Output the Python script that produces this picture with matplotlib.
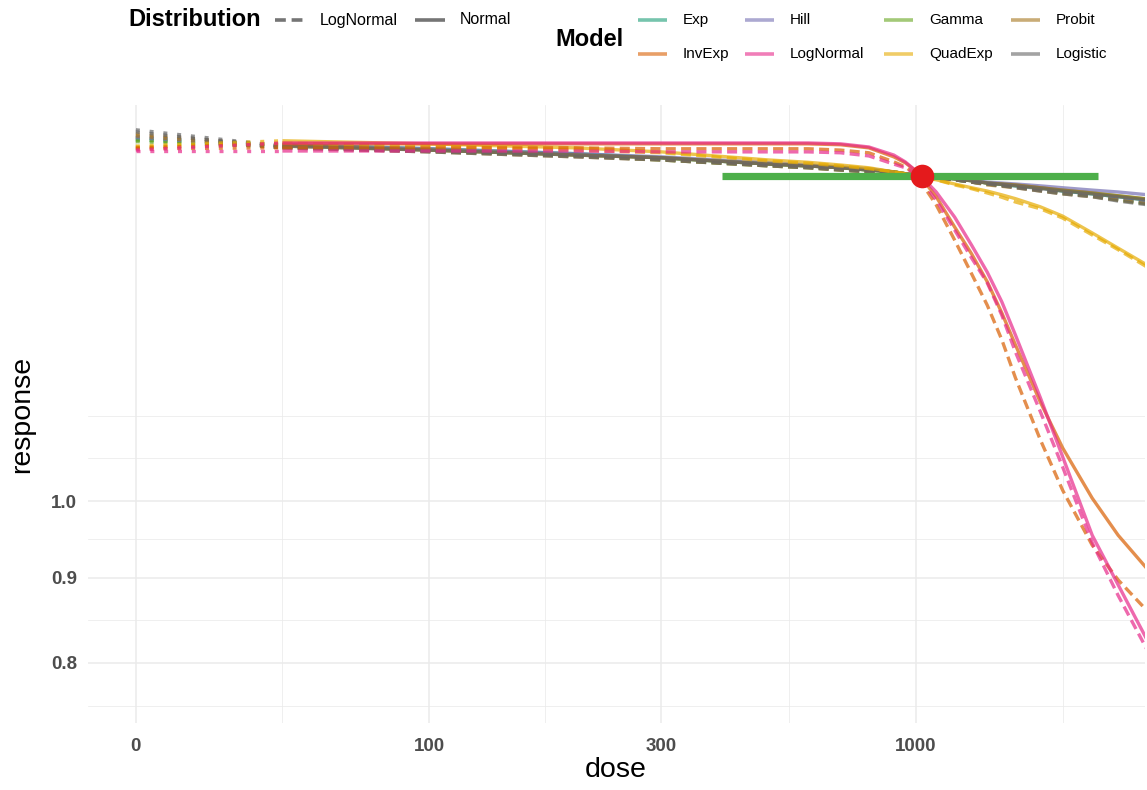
import numpy as np
import matplotlib.pyplot as plt
from matplotlib.lines import Line2D
from matplotlib.ticker import FixedLocator, NullFormatter

plt.rcParams["font.family"] = ["Liberation Sans", "DejaVu Sans"]

# dose grid of the fitted curves (dose 0 is shown separately, broken-axis style)
dose = [50, 100, 200, 300, 500, 600, 700, 800, 900, 950, 1000, 1100, 1200, 1300,
        1400, 1500, 1600, 1800, 2000, 2300, 2600, 3000]
zero_pos = 25  # where dose 0 sits on the log axis

models = ["Exp", "InvExp", "Hill", "LogNormal", "Gamma", "QuadExp", "Probit", "Logistic"]
model_colors = ["#1B9E77", "#D95F02", "#7570B3", "#E7298A",
                "#66A61E", "#E6AB02", "#A6761D", "#666666"]
distributions = ["LogNormal", "Normal"]

# fitted responses, one list per model / distribution
exp_norm = [1.634, 1.625, 1.614, 1.605, 1.591, 1.587, 1.583, 1.578, 1.574, 1.570, 1.567,
            1.563, 1.559, 1.555, 1.550, 1.547, 1.544, 1.540, 1.533, 1.527, 1.521, 1.514]
exp_lnorm = [1.629, 1.620, 1.609, 1.602, 1.589, 1.585, 1.581, 1.576, 1.572, 1.567, 1.565,
             1.561, 1.557, 1.552, 1.548, 1.545, 1.542, 1.535, 1.529, 1.523, 1.516, 1.508]
invexp_norm = [1.636, 1.636, 1.636, 1.636, 1.636, 1.636, 1.634, 1.627, 1.607, 1.594, 1.576,
               1.521, 1.459, 1.406, 1.353, 1.296, 1.240, 1.146, 1.076, 1.004, 0.954, 0.909]
invexp_lnorm = [1.627, 1.627, 1.627, 1.625, 1.625, 1.625, 1.622, 1.616, 1.596, 1.585, 1.568,
                1.504, 1.433, 1.368, 1.310, 1.249, 1.185, 1.088, 1.015, 0.941, 0.897, 0.858]
hill_norm = [1.634, 1.625, 1.614, 1.607, 1.594, 1.589, 1.585, 1.581, 1.574, 1.570, 1.567,
             1.563, 1.561, 1.557, 1.552, 1.550, 1.548, 1.544, 1.540, 1.535, 1.531, 1.525]
hill_lnorm = [1.629, 1.620, 1.609, 1.602, 1.589, 1.585, 1.581, 1.576, 1.572, 1.567, 1.565,
              1.561, 1.557, 1.552, 1.548, 1.545, 1.542, 1.535, 1.531, 1.525, 1.519, 1.510]
lognormal_norm = [1.638, 1.638, 1.638, 1.638, 1.638, 1.638, 1.636, 1.629, 1.611, 1.596, 1.576,
                  1.531, 1.479, 1.423, 1.371, 1.316, 1.257, 1.153, 1.063, 0.954, 0.891, 0.823]
lognormal_lnorm = [1.620, 1.620, 1.620, 1.618, 1.618, 1.618, 1.616, 1.609, 1.591, 1.583, 1.570,
                   1.514, 1.453, 1.398, 1.351, 1.292, 1.228, 1.131, 1.048, 0.944, 0.878, 0.812]
gamma_norm = [1.634, 1.622, 1.611, 1.605, 1.591, 1.587, 1.583, 1.578, 1.574, 1.570, 1.567,
              1.563, 1.559, 1.555, 1.550, 1.548, 1.546, 1.540, 1.535, 1.529, 1.523, 1.516]
gamma_lnorm = [1.629, 1.620, 1.609, 1.600, 1.587, 1.583, 1.578, 1.574, 1.570, 1.567, 1.565,
               1.561, 1.557, 1.552, 1.548, 1.545, 1.542, 1.535, 1.529, 1.523, 1.514, 1.506]
quadexp_norm = [1.643, 1.636, 1.627, 1.618, 1.600, 1.595, 1.589, 1.583, 1.574, 1.570, 1.565,
                1.557, 1.548, 1.540, 1.533, 1.525, 1.517, 1.500, 1.481, 1.447, 1.417, 1.383]
quadexp_lnorm = [1.638, 1.631, 1.622, 1.616, 1.598, 1.593, 1.587, 1.581, 1.574, 1.570, 1.565,
                 1.557, 1.546, 1.538, 1.529, 1.520, 1.510, 1.496, 1.477, 1.443, 1.414, 1.379]
probit_norm = [1.631, 1.622, 1.611, 1.605, 1.591, 1.587, 1.583, 1.578, 1.574, 1.570, 1.567,
               1.563, 1.559, 1.555, 1.550, 1.548, 1.546, 1.540, 1.535, 1.529, 1.523, 1.516]
probit_lnorm = [1.627, 1.618, 1.607, 1.600, 1.587, 1.583, 1.578, 1.574, 1.570, 1.567, 1.565,
                1.561, 1.557, 1.552, 1.546, 1.543, 1.540, 1.533, 1.527, 1.521, 1.514, 1.506]
logistic_norm = [1.631, 1.622, 1.611, 1.605, 1.591, 1.587, 1.583, 1.578, 1.574, 1.570, 1.567,
                 1.563, 1.559, 1.555, 1.550, 1.547, 1.544, 1.538, 1.533, 1.527, 1.521, 1.514]
logistic_lnorm = [1.627, 1.618, 1.607, 1.600, 1.587, 1.583, 1.578, 1.574, 1.570, 1.567, 1.565,
                  1.561, 1.557, 1.552, 1.548, 1.544, 1.540, 1.533, 1.527, 1.521, 1.512, 1.504]

# response at dose 0 for each curve (same order as `curves` below)
resp_zero = [1.650, 1.645, 1.645, 1.641, 1.654, 1.650, 1.659, 1.654, 1.668, 1.663,
             1.631, 1.629, 1.627, 1.625, 1.622, 1.620]

# model average BMD and its interval
bmd = 1029
bmd_resp = 1.565
bmdl, bmdu = 400, 2364

curves = [
    ("Exp", "Normal", exp_norm), ("Exp", "LogNormal", exp_lnorm),
    ("Gamma", "Normal", gamma_norm), ("Gamma", "LogNormal", gamma_lnorm),
    ("Hill", "Normal", hill_norm), ("Hill", "LogNormal", hill_lnorm),
    ("Probit", "Normal", probit_norm), ("Probit", "LogNormal", probit_lnorm),
    ("Logistic", "Normal", logistic_norm), ("Logistic", "LogNormal", logistic_lnorm),
    ("QuadExp", "Normal", quadexp_norm), ("QuadExp", "LogNormal", quadexp_lnorm),
    ("InvExp", "Normal", invexp_norm), ("InvExp", "LogNormal", invexp_lnorm),
    ("LogNormal", "Normal", lognormal_norm), ("LogNormal", "LogNormal", lognormal_lnorm),
]

W, H = 1147, 790
fig = plt.figure(figsize=(W / 100, H / 100), dpi=100)
ax = fig.add_axes([88 / W, (H - 723) / H, (1145 - 88) / W, (723 - 105) / H])

color_of = dict(zip(models, model_colors))
dashed = (0, (3, 1.6))
dotted = (0, (1.2, 2.95))
lw = 2.4
alpha = 0.7

for (model, dist, resp), r0 in zip(curves, resp_zero):
    c = color_of[model]
    ls = "-" if dist == "Normal" else dashed
    ax.plot(dose, resp, color=c, lw=lw, ls=ls, alpha=alpha, solid_capstyle="butt",
            solid_joinstyle="round", zorder=2)
    ax.plot([zero_pos, dose[0]], [r0, resp[0]], color=c, lw=lw, ls=dotted,
            alpha=alpha, dash_capstyle="butt", zorder=2)

# BMD interval and point
ax.plot([bmdl, bmdu], [bmd_resp, bmd_resp], color="#4DAF4A", lw=5.2,
        solid_capstyle="butt", zorder=3)
ax.plot(bmd, bmd_resp, "o", color="#E41A1C", ms=17, mec="none", zorder=4)

ax.set_xscale("log")
ax.set_yscale("log")
ax.set_xlim(19.94, 2952)
ax.set_ylim(0.7365, 1.726)

xbreaks = [zero_pos, 100, 300, 1000]
xlabels = ["0", "100", "300", "1000"]
ybreaks = [0.8, 0.9, 1.0]
ylabels = ["0.8", "0.9", "1.0"]

# minor grid halfway between breaks (in transformed space), ggplot style
xb = np.log10(xbreaks)
xb = np.append(xb, xb[-1] + (xb[1] - xb[0]))
xminor = 10 ** ((xb[:-1] + xb[1:]) / 2)
yb = np.log10(ybreaks)
yb = np.concatenate([[yb[0] - (yb[1] - yb[0])], yb, [yb[-1] + (yb[1] - yb[0])]])
yminor = np.concatenate([10 ** ((yb[:-1] + yb[1:]) / 2), [10 ** yb[-1]]])

ax.xaxis.set_major_locator(FixedLocator(xbreaks))
ax.xaxis.set_minor_locator(FixedLocator(xminor))
ax.yaxis.set_major_locator(FixedLocator(ybreaks))
ax.yaxis.set_minor_locator(FixedLocator(yminor))
ax.set_xticklabels(xlabels)
ax.set_yticklabels(ylabels)
ax.xaxis.set_minor_formatter(NullFormatter())
ax.yaxis.set_minor_formatter(NullFormatter())

ax.grid(which="major", color="#EBEBEB", lw=1.1)
ax.grid(which="minor", color="#EBEBEB", lw=0.55)
ax.set_axisbelow(True)
for s in ax.spines.values():
    s.set_visible(False)
ax.tick_params(which="both", length=0)
ax.tick_params(axis="x", pad=11, labelsize=13.5, labelcolor="#4D4D4D")
ax.tick_params(axis="y", pad=8, labelsize=13.5, labelcolor="#4D4D4D")
for t in ax.get_xticklabels() + ax.get_yticklabels():
    t.set_fontweight("bold")

fig.text(616 / W, 1 - 770 / H, "dose", ha="center", va="center", fontsize=20.5)
fig.text(22 / W, 1 - 414 / H, "response", ha="center", va="center",
         fontsize=20.5, rotation=90)


def fx(px):
    return px / W


def fy(py):
    return 1 - py / H


# Distribution legend
fig.text(fx(128), fy(20), "Distribution", fontsize=17, fontweight="bold",
         ha="left", va="center")
dist_keys = [(275, dashed), (415, "-")]
for (kx, ls), name in zip(dist_keys, distributions):
    fig.add_artist(Line2D([fx(kx), fx(kx + 30)], [fy(20), fy(20)], color="#666666",
                          lw=2.6, ls=ls, alpha=0.9, solid_capstyle="butt",
                          dash_capstyle="butt"))
    fig.text(fx(kx + 45), fy(20), name, fontsize=11.5, ha="left", va="center")

# Model legend
fig.text(fx(555), fy(39), "Model", fontsize=17, fontweight="bold",
         ha="left", va="center")
key_x = [638, 745, 884, 1011]
row_y = [20, 54]
for i, (m, c) in enumerate(zip(models, model_colors)):
    col, row = i // 2, i % 2
    kx, ky = key_x[col], row_y[row]
    fig.add_artist(Line2D([fx(kx), fx(kx + 29)], [fy(ky), fy(ky)], color=c,
                          lw=2.6, alpha=0.6, solid_capstyle="butt"))
    fig.text(fx(kx + 45), fy(ky), m, fontsize=11, ha="left", va="center")

fig.savefig("out.png", dpi=100, facecolor="white")
